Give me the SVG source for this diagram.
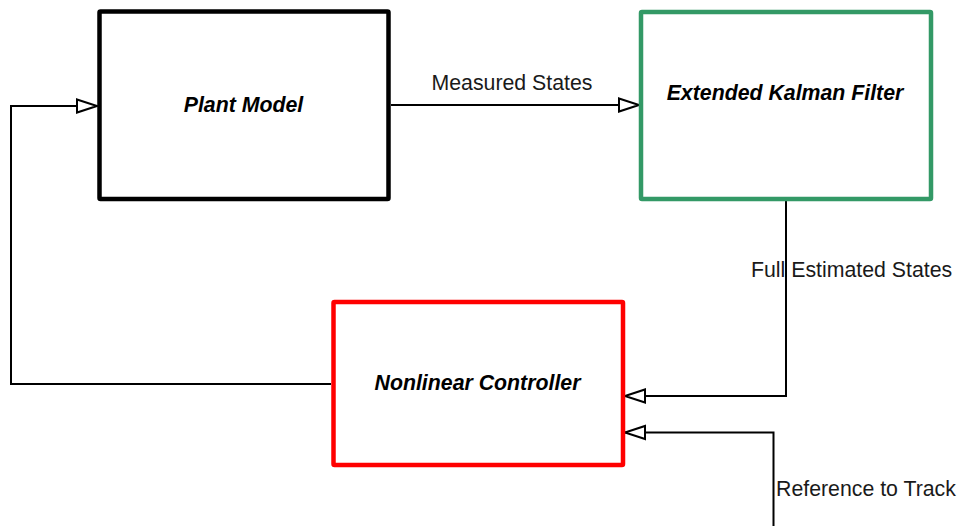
<svg xmlns="http://www.w3.org/2000/svg" width="960" height="526" viewBox="0 0 960 526">
  <style>
    .block { fill: #ffffff; stroke-width: 4.5; stroke-linejoin: round; }
    .title { font-family: "Liberation Sans", Arial, sans-serif; font-size: 21.3px; font-weight: bold; font-style: italic; fill: #000000; text-anchor: middle; }
    .label { font-family: "Liberation Sans", Arial, sans-serif; font-size: 21.3px; fill: #1a1a1a; }
    .wire { fill: none; stroke: #000000; stroke-width: 2; marker-end: url(#open-arrow); }
  </style>
  <defs>
    <marker id="open-arrow" markerUnits="userSpaceOnUse" markerWidth="30" markerHeight="20" refX="21" refY="8" orient="auto" overflow="visible">
      <path d="M1,1.5 L21,8 L1,14.5 Z" fill="#ffffff" stroke="#000000" stroke-width="2" stroke-linejoin="miter"/>
    </marker>
  </defs>
  <rect width="960" height="526" fill="#ffffff"/>

  <g id="connectors">
    <!-- controller output back to plant input -->
    <path class="wire" d="M331,384 H11 V106 H97"/>
    <!-- plant to estimator -->
    <path class="wire" d="M391,105 H639"/>
    <!-- estimator to controller -->
    <path class="wire" d="M786,201 V396 H625"/>
    <!-- reference input -->
    <path class="wire" d="M773.5,526 V432.5 H625"/>
    <text class="label" x="431.5" y="90">Measured States</text>
    <text class="label" x="751" y="277">Full Estimated States</text>
    <text class="label" x="776" y="496">Reference to Track</text>
  </g>

  <g id="plant-model">
    <rect class="block" x="99.5" y="11.5" width="289" height="187.5" rx="1" stroke="#000000"/>
    <text class="title" x="243.5" y="112">Plant Model</text>
  </g>

  <g id="extended-kalman-filter">
    <rect class="block" x="641" y="12" width="290" height="187" rx="1" stroke="#339966" stroke-width="4"/>
    <text class="title" x="785" y="100">Extended Kalman Filter</text>
  </g>

  <g id="nonlinear-controller">
    <rect class="block" x="333.5" y="302" width="289.5" height="163" rx="1" stroke="#ff0000"/>
    <text class="title" x="477.5" y="390">Nonlinear Controller</text>
  </g>
</svg>
